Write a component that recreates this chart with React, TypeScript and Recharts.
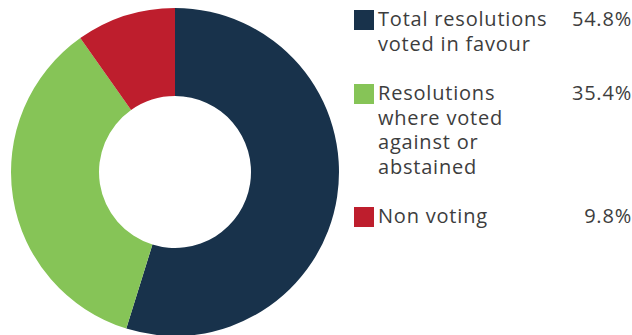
import React from 'react';
import { PieChart, Pie, Cell, Legend } from 'recharts';

const categories = [
  'Total resolutions\nvoted in favour',
  'Resolutions\nwhere voted\nagainst or\nabstained',
  'Non voting',
];
const shares = [54.8, 35.4, 9.8];
const colors = ['#18324b', '#86c457', '#be1e2d'];

const data = categories.map((name, i) => ({ name, value: shares[i] }));

const FONT = '"Open Sans", sans-serif';

const renderLegend = () => (
  <div style={{ fontFamily: FONT, fontSize: 20, lineHeight: '24.5px', letterSpacing: 0.8, color: '#3d3d3d' }}>
    {data.map((d, i) => (
      <div key={d.name} style={{ position: 'relative', height: d.name.split('\n').length * 24.5, marginBottom: 25 }}>
        <div style={{ position: 'absolute', left: 9, top: 2.5, width: 20, height: 20, background: colors[i] }} />
        <div style={{ position: 'absolute', left: 33, top: 0, whiteSpace: 'pre-line' }}>{d.name}</div>
        <div style={{ position: 'absolute', right: 0, top: 0 }}>{d.value.toFixed(1)}%</div>
      </div>
    ))}
  </div>
);

const App: React.FC = () => {
  return (
    <div style={{ width: 632, height: 335 }}>
      <style>{'body{margin:0}'}</style>
      <PieChart width={632} height={335} margin={{ top: 0, right: 0, bottom: 0, left: 0 }}>
        <Pie
          data={data}
          dataKey="value"
          nameKey="name"
          cx={175}
          cy={172}
          innerRadius={76}
          outerRadius={164}
          startAngle={90}
          endAngle={-270}
          stroke="none"
          isAnimationActive={false}
        >
          {data.map((d, i) => (
            <Cell key={d.name} fill={colors[i]} />
          ))}
        </Pie>
        <Legend
          content={renderLegend}
          wrapperStyle={{ position: 'absolute', left: 345, top: 7, width: 287 }}
        />
      </PieChart>
    </div>
  );
};

export default App;
